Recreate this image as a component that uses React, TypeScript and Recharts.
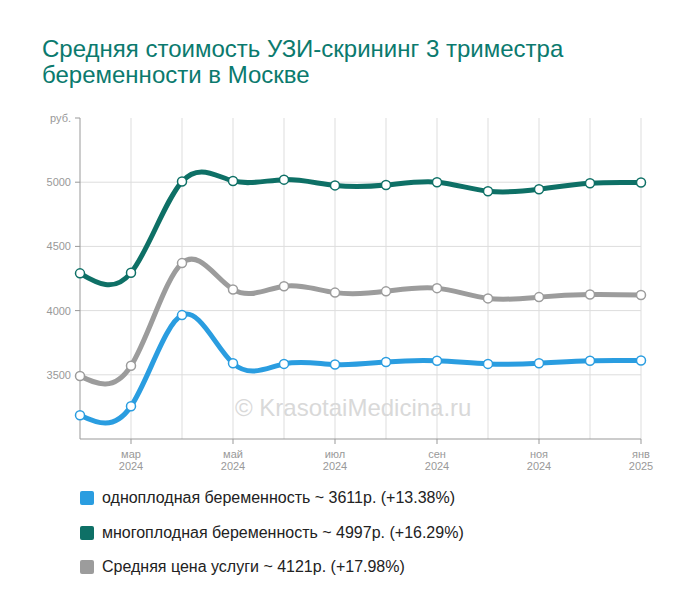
import React from "react";
import { LineChart, Line, XAxis, YAxis, ReferenceLine } from "recharts";

const months = ["фев", "мар", "апр", "май", "июн", "июл", "авг", "сен", "окт", "ноя", "дек", "янв"];
const years = ["2024", "2024", "2024", "2024", "2024", "2024", "2024", "2024", "2024", "2024", "2024", "2025"];
const single = [3185, 3255, 3965, 3590, 3585, 3580, 3600, 3610, 3585, 3590, 3610, 3611];
const multiple = [4290, 4295, 5005, 5010, 5020, 4975, 4978, 5000, 4930, 4945, 4992, 4997];
const average = [3490, 3570, 4370, 4165, 4190, 4140, 4150, 4175, 4095, 4105, 4125, 4121];
const yTicks = [3500, 4000, 4500, 5000, 5500];
const xTicks = [1, 3, 5, 7, 9, 11];

const BLUE = "#2a9de0";
const TEAL = "#0e7066";
const GRAY = "#9c9c9c";

const legendItems = [
  { color: BLUE, label: "одноплодная беременность ~ 3611р. (+13.38%)" },
  { color: TEAL, label: "многоплодная беременность ~ 4997р. (+16.29%)" },
  { color: GRAY, label: "Средняя цена услуги ~ 4121р. (+17.98%)" },
];

const data = months.map((m, i) => ({
  i,
  single: single[i],
  multiple: multiple[i],
  average: average[i],
}));

function XTick({ x, y, payload }: any) {
  const i = payload.value as number;
  return (
    <g transform={`translate(${x},${y})`}>
      <text textAnchor="middle" fill="#999" fontSize={11} y={12}>
        {months[i]}
      </text>
      <text textAnchor="middle" fill="#999" fontSize={11} y={24}>
        {years[i]}
      </text>
    </g>
  );
}

function YTick({ x, y, payload }: any) {
  const v = payload.value as number;
  return (
    <text x={x - 2} y={y + 4} textAnchor="end" fill="#999" fontSize={11}>
      {v === 5500 ? "руб." : v}
    </text>
  );
}

const dot = (color: string) => ({ r: 4.5, fill: "#fff", stroke: color, strokeWidth: 1.5 });

export default function App() {
  return (
    <div
      style={{
        position: "absolute",
        left: 0,
        top: 0,
        width: 700,
        height: 616,
        background: "#fff",
        fontFamily: "'Liberation Sans', Arial, sans-serif",
      }}
    >
      <div
        style={{
          position: "absolute",
          left: 42,
          top: 36,
          fontSize: 24,
          lineHeight: "26px",
          color: "#0b7a6e",
        }}
      >
        Средняя стоимость УЗИ-скрининг 3 триместра
        <br />
        беременности в Москве
      </div>
      <div style={{ position: "absolute", left: 0, top: 0 }}>
        <LineChart width={700} height={480} data={data} margin={{ top: 118, right: 59, left: 40, bottom: 11 }}>
          {months.map((_, i) =>
            i > 0 ? <ReferenceLine key={"v" + i} x={i} stroke="#ddd" /> : null
          )}
          {yTicks.slice(0, 4).map((t) => (
            <ReferenceLine key={"h" + t} y={t} stroke="#ddd" />
          ))}
          <XAxis
            dataKey="i"
            type="number"
            domain={[0, 11]}
            ticks={xTicks}
            tick={<XTick />}
            height={30}
            stroke="#999"
            tickSize={5}
          />
          <YAxis
            type="number"
            domain={[3000, 5500]}
            ticks={yTicks}
            tick={<YTick />}
            width={40}
            stroke="#999"
            tickSize={5}
          />
          <Line
            type="natural"
            dataKey="average"
            stroke={GRAY}
            strokeWidth={5}
            dot={dot(GRAY)}
            activeDot={false}
            isAnimationActive={false}
          />
          <Line
            type="natural"
            dataKey="single"
            stroke={BLUE}
            strokeWidth={5}
            dot={dot(BLUE)}
            activeDot={false}
            isAnimationActive={false}
          />
          <Line
            type="natural"
            dataKey="multiple"
            stroke={TEAL}
            strokeWidth={5}
            dot={dot(TEAL)}
            activeDot={false}
            isAnimationActive={false}
          />
        </LineChart>
      </div>
      <div
        style={{
          position: "absolute",
          left: 235,
          top: 394,
          fontSize: 24,
          color: "#d9d9d9",
          pointerEvents: "none",
        }}
      >
        © KrasotaiMedicina.ru
      </div>
      <div style={{ position: "absolute", left: 80, top: 481 }}>
        {legendItems.map((it) => (
          <div key={it.label} style={{ display: "flex", alignItems: "center", height: 34.5 }}>
            <span
              style={{
                width: 14,
                height: 14,
                borderRadius: 2,
                background: it.color,
                display: "inline-block",
                marginRight: 8,
              }}
            />
            <span style={{ fontSize: 16, color: "#222" }}>{it.label}</span>
          </div>
        ))}
      </div>
    </div>
  );
}
